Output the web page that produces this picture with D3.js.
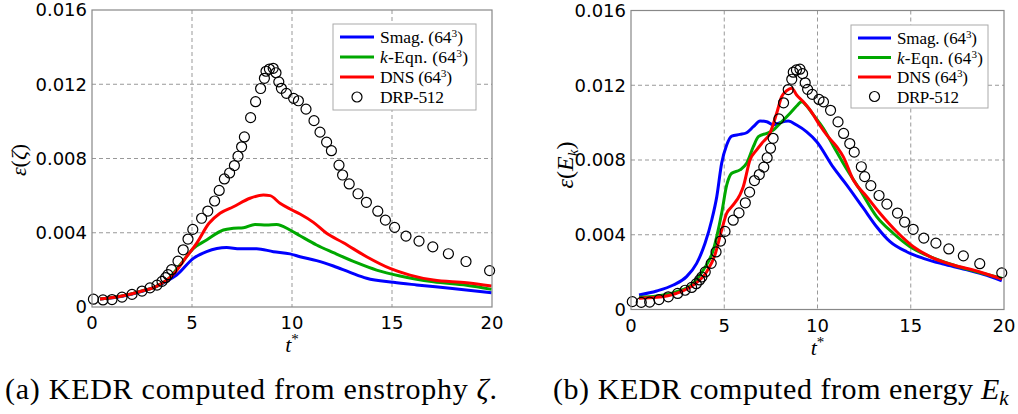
<!DOCTYPE html>
<html>
<head>
<meta charset="utf-8">
<script src="https://cdnjs.cloudflare.com/ajax/libs/d3/7.8.5/d3.min.js"></script>
<style>
  body { margin: 0; background: #fff; }
  svg { display: block; }
  .tick-label { font-family: "DejaVu Sans", sans-serif; font-size: 18px; fill: #000; }
  .serif { font-family: "Liberation Serif", "DejaVu Serif", serif; fill: #000; }
</style>
</head>
<body>
<div id="chart-area"></div>
<script>
// DRP-512 reference data (same in both panels): [t*, epsilon]
var drpData = [
  [0.07,0.00042],[0.55,0.00038],[1.0,0.00040],[1.5,0.00053],[2.0,0.00068],
  [2.5,0.00086],[2.9,0.00103],[3.25,0.00118],[3.5,0.00138],[3.68,0.00158],
  [3.8,0.00174],[3.98,0.00201],[4.3,0.00247],[4.56,0.00308],[4.8,0.00366],
  [5.04,0.00418],[5.48,0.00478],[5.79,0.00517],[6.13,0.00571],[6.36,0.00628],
  [6.62,0.00690],[6.88,0.00722],[7.12,0.00762],[7.3,0.00812],[7.48,0.00863],
  [7.62,0.00916],[7.93,0.01020],[8.18,0.01106],[8.43,0.01177],[8.62,0.01232],
  [8.7,0.01270],[8.87,0.01282],[9.06,0.01286],[9.2,0.01262],[9.34,0.01213],
  [9.47,0.01178],[9.72,0.01151],[10.08,0.01124],[10.32,0.01111],[10.7,0.01066],
  [11.1,0.01004],[11.4,0.00942],[11.73,0.00888],[11.97,0.00842],[12.35,0.00764],
  [12.53,0.00711],[12.86,0.00663],[13.3,0.00610],[13.72,0.00564],[14.29,0.00516],
  [14.67,0.00468],[15.13,0.00429],[15.7,0.00382],[16.35,0.00355],[17.04,0.00324],
  [17.82,0.00287],[18.7,0.00245],[19.88,0.00196]
];

// (a) KEDR from enstrophy
var smagA = [
  [0.4,0.00043],[1.5,0.00058],[2.5,0.00085],[3.2,0.00110],[3.7,0.00138],[4.23,0.00172],
  [5.07,0.00262],[5.73,0.00298],[6.73,0.00320],[7.4,0.00314],[8.23,0.00314],
  [9.07,0.00298],[9.9,0.00286],[10.4,0.00271],[11.23,0.00250],[12.07,0.00221],
  [12.9,0.00187],[13.73,0.00155],[15.07,0.00133],[16.23,0.00119],[17.9,0.00101],[19.98,0.00077]
];
var keqnA = [
  [0.4,0.00043],[1.5,0.00059],[2.5,0.00086],[3.2,0.00110],[3.8,0.00150],[4.4,0.00226],
  [5.07,0.00316],[5.73,0.00361],[6.57,0.00415],[7.07,0.00424],[7.57,0.00427],
  [8.15,0.00445],[8.73,0.00442],[9.23,0.00445],[9.9,0.00415],[10.4,0.00384],
  [11.23,0.00334],[12.07,0.00293],[13.23,0.00239],[14.23,0.00199],[15.4,0.00167],
  [17.07,0.00136],[18.73,0.00117],[19.98,0.00095]
];
var dnsA = [
  [0.4,0.00043],[1.5,0.00059],[2.5,0.00086],[3.2,0.00110],[4.07,0.00176],[4.73,0.00271],
  [5.23,0.00343],[5.85,0.00451],[6.4,0.00505],[7.07,0.00540],[7.9,0.00586],
  [8.57,0.00603],[8.9,0.00600],[9.4,0.00559],[9.9,0.00528],[10.4,0.00501],
  [11.07,0.00456],[11.73,0.00397],[12.57,0.00346],[13.73,0.00271],[14.9,0.00208],
  [15.9,0.00172],[17.07,0.00145],[18.73,0.00131],[19.98,0.00113]
];

// (b) KEDR from energy
var smagB = [
  [0.43,0.00078],[1.38,0.00099],[2.27,0.00131],[2.98,0.00176],[3.52,0.00247],
  [3.97,0.00354],[4.33,0.00479],[4.6,0.00604],[4.86,0.00782],[5.13,0.00880],
  [5.4,0.00928],[5.84,0.00937],[6.2,0.00946],[6.56,0.00978],[6.92,0.01009],
  [7.28,0.01005],[7.63,0.00987],[7.99,0.01000],[8.43,0.01009],[8.88,0.00987],
  [9.42,0.00951],[9.96,0.00898],[10.85,0.00760],[11.57,0.00666],[12.46,0.00542],
  [13.17,0.00443],[13.89,0.00363],[14.78,0.00309],[15.67,0.00274],[16.75,0.00243],
  [17.82,0.00217],[18.89,0.00188],[19.88,0.00154]
];
var keqnB = [
  [0.43,0.00065],[1.38,0.00072],[2.45,0.00095],[3.34,0.00140],[3.88,0.00211],
  [4.41,0.00318],[4.86,0.00515],[5.13,0.00665],[5.4,0.00729],[5.84,0.00747],
  [6.2,0.00782],[6.56,0.00871],[6.83,0.00925],[7.28,0.00943],[7.63,0.00960],
  [7.99,0.00996],[8.53,0.01050],[8.88,0.01089],[9.15,0.01112],[9.42,0.01089],
  [9.78,0.01041],[10.31,0.00970],[10.85,0.00875],[11.57,0.00750],[12.28,0.00640],
  [13.17,0.00497],[14.06,0.00408],[14.96,0.00336],[16.03,0.00283],[17.28,0.00238],
  [18.54,0.00202],[19.88,0.00167]
];
var dnsB = [
  [0.43,0.00060],[1.38,0.00065],[2.45,0.00087],[3.34,0.00131],[4.06,0.00202],
  [4.5,0.00292],[4.86,0.00425],[5.13,0.00515],[5.4,0.00550],[5.84,0.00613],
  [6.02,0.00657],[6.38,0.00800],[6.74,0.00854],[7.09,0.00898],[7.45,0.00943],
  [7.81,0.01050],[8.08,0.01139],[8.35,0.01171],[8.62,0.01184],[8.88,0.01148],
  [9.24,0.01112],[9.6,0.01068],[10.13,0.00985],[10.49,0.00934],[11.03,0.00871],
  [11.38,0.00818],[11.92,0.00693],[12.64,0.00604],[13.35,0.00515],[14.25,0.00416],
  [15.14,0.00336],[16.03,0.00283],[17.28,0.00238],[18.54,0.00206],[19.88,0.00163]
];

var xTicks = [0, 5, 10, 15, 20];
var yTicks = [0, 0.004, 0.008, 0.012, 0.016];
var yTickLabels = ["0", "0.004", "0.008", "0.012", "0.016"];
var legendNames = ["Smag.", "-Eqn.", "DNS", "DRP-512"];
var colors = ["#0000ff", "#00a800", "#ff0000"];

var svg = d3.select("#chart-area").append("svg")
  .attr("width", 1018)
  .attr("height", 414);

function draw_panel(p) {
  var x = d3.scaleLinear().domain([0, 20]).range([p.left, p.right]);
  var y = d3.scaleLinear().domain([0, 0.016]).range([p.bottom, p.top]);
  var g = svg.append("g");

  // grid
  g.selectAll(".gx").data(xTicks.slice(1, -1)).enter().append("line")
    .attr("x1", d => x(d)).attr("x2", d => x(d))
    .attr("y1", p.top).attr("y2", p.bottom)
    .attr("stroke", "#999").attr("stroke-width", 1).attr("stroke-dasharray", "4,3");
  g.selectAll(".gy").data(yTicks.slice(1, -1)).enter().append("line")
    .attr("x1", p.left).attr("x2", p.right)
    .attr("y1", d => y(d)).attr("y2", d => y(d))
    .attr("stroke", "#999").attr("stroke-width", 1).attr("stroke-dasharray", "4,3");

  // lines
  var line = d3.line().x(d => x(d[0])).y(d => y(d[1])).curve(d3.curveMonotoneX);
  p.series.forEach(function(s, i) {
    g.append("path").datum(s)
      .attr("d", line)
      .attr("fill", "none")
      .attr("stroke", colors[i])
      .attr("stroke-width", 3)
      .attr("stroke-linejoin", "round");
  });

  // DRP circles
  g.selectAll(".drp").data(drpData).enter().append("circle")
    .attr("cx", d => x(d[0])).attr("cy", d => y(d[1]))
    .attr("r", 5)
    .attr("fill", "none").attr("stroke", "#000").attr("stroke-width", 1.2);

  // frame
  g.append("rect")
    .attr("x", p.left).attr("y", p.top)
    .attr("width", p.right - p.left).attr("height", p.bottom - p.top)
    .attr("fill", "none").attr("stroke", "#888").attr("stroke-width", 1.2);

  // tick labels
  g.selectAll(".xt").data(xTicks).enter().append("text")
    .attr("class", "tick-label")
    .attr("x", d => x(d)).attr("y", p.bottom + 22)
    .attr("text-anchor", "middle")
    .text(d => d);
  g.selectAll(".yt").data(yTicks).enter().append("text")
    .attr("class", "tick-label")
    .attr("x", p.left - 5).attr("y", d => y(d))
    .attr("dy", "0.36em")
    .attr("text-anchor", "end")
    .text((d, i) => yTickLabels[i]);

  // x label t*
  var xl = g.append("text").attr("class", "serif")
    .attr("x", (p.left + p.right) / 2).attr("y", p.bottom + 45)
    .attr("text-anchor", "middle").style("font-size", "22px");
  xl.append("tspan").style("font-style", "italic").text("t");
  xl.append("tspan").attr("dy", -8).style("font-size", "15px").text("*");

  // y label
  var yl = g.append("text").attr("class", "serif")
    .attr("transform", "translate(" + p.ylabelX + "," + p.ylabelY + ") rotate(-90)")
    .attr("text-anchor", "middle").style("font-size", p.ylabelFs + "px");
  yl.append("tspan").style("font-style", "italic").text("ε");
  yl.append("tspan").text("(");
  if (p.energy) {
    yl.append("tspan").style("font-style", "italic").text("E");
    yl.append("tspan").attr("dy", 5).style("font-style", "italic").style("font-size", "15px").text("k");
    yl.append("tspan").attr("dy", -5).text(")");
  } else {
    yl.append("tspan").style("font-style", "italic").text("ζ");
    yl.append("tspan").text(")");
  }

  // legend
  var lg = g.append("g");
  lg.append("rect")
    .attr("x", p.leg.x).attr("y", p.leg.y)
    .attr("width", p.leg.w).attr("height", p.leg.h)
    .attr("fill", "#fff").attr("stroke", "#aaa").attr("stroke-width", 1);
  legendNames.forEach(function(name, i) {
    var ry = p.leg.y + 13 + i * p.leg.dy;
    if (i < 3) {
      lg.append("line")
        .attr("x1", p.leg.x + 7).attr("x2", p.leg.x + 7 + p.leg.lw)
        .attr("y1", ry).attr("y2", ry)
        .attr("stroke", colors[i]).attr("stroke-width", 3);
    } else {
      lg.append("circle")
        .attr("cx", p.leg.x + 7 + p.leg.lw / 2).attr("cy", ry)
        .attr("r", 5).attr("fill", "none").attr("stroke", "#000").attr("stroke-width", 1.2);
    }
    var t = lg.append("text").attr("class", "serif")
      .attr("x", p.leg.x + p.leg.lw + 13).attr("y", ry + 6)
      .attr("textLength", p.leg.tl[i])
      .attr("lengthAdjust", "spacing")
      .style("font-size", p.leg.fs + "px");
    if (i === 1) t.append("tspan").style("font-style", "italic").text("k");
    t.append("tspan").text(name);
    if (i < 3) {
      t.append("tspan").text(i === 2 ? " (64" : "  (64");
      t.append("tspan").attr("dy", -6).style("font-size", (p.leg.fs * 0.65) + "px").text("3");
      t.append("tspan").attr("dy", 6).text(")");
    }
  });

  // caption
  var cap = g.append("text").attr("class", "serif")
    .attr("x", p.capX).attr("y", 399)
    .attr("textLength", p.capLen)
    .attr("lengthAdjust", "spacing")
    .style("font-size", "30px");
  cap.append("tspan").text(p.caption);
  if (p.energy) {
    var ek = g.append("text").attr("class", "serif")
      .attr("x", p.capX + p.capLen + 8).attr("y", 399)
      .style("font-size", "30px").style("font-style", "italic");
    ek.append("tspan").text("E");
    ek.append("tspan").attr("dy", 6).style("font-size", "21px").text("k");
  } else {
    cap.append("tspan").style("font-style", "italic").text("ζ");
    cap.append("tspan").text(".");
  }
}

draw_panel({
  left: 92, right: 492, top: 10, bottom: 307,
  series: [smagA, keqnA, dnsA],
  ylabelX: 26, ylabelY: 160, ylabelFs: 22, energy: false,
  leg: {x: 333, y: 24, w: 143, h: 86, dy: 20, lw: 34, fs: 17.5, tl: [83, 88, 72, 64]},
  capX: 5, capLen: 492,
  caption: "(a) KEDR computed from enstrophy "
});

draw_panel({
  left: 631, right: 1004, top: 10.5, bottom: 309.5,
  series: [smagB, keqnB, dnsB],
  ylabelX: 573, ylabelY: 165, ylabelFs: 24, energy: true,
  leg: {x: 851, y: 25, w: 137, h: 83, dy: 19.5, lw: 33, fs: 17, tl: [80, 86, 71, 62]},
  capX: 553, capLen: 420,
  caption: "(b) KEDR computed from energy"
});
</script>
</body>
</html>
